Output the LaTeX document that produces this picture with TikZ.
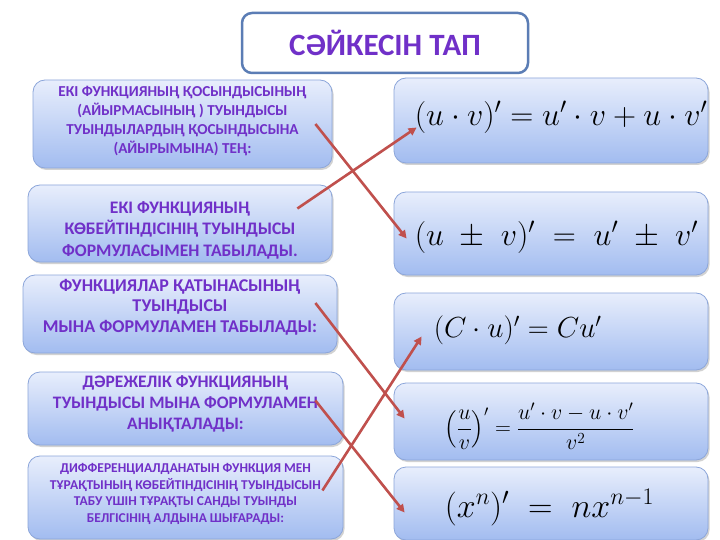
\documentclass[tikz,border=0pt]{standalone}
\usepackage{fix-cm}
\usepackage{amsmath}
\usepackage{fontspec}
\setmainfont{Carlito}
\usetikzlibrary{arrows.meta,positioning,shadows}
\definecolor{titleblue}{HTML}{5B7DB5}
\definecolor{textviolet}{HTML}{7030C8}
\definecolor{boxtop}{HTML}{E8EEFC}
\definecolor{boxbottom}{HTML}{A2BCF0}
\definecolor{boxline}{HTML}{8CA6DA}
\definecolor{arrowred}{HTML}{C0504D}

\begin{document}
\begin{tikzpicture}[x=1pt, y=-1pt,
  titlebox/.style={draw=titleblue, line width=2.5pt, rounded corners=10pt, fill=white,
                   minimum width=286pt, minimum height=60pt, text=textviolet,
                   font=\fontsize{31}{34}\selectfont\bfseries},
  card/.style={draw=boxline, line width=0.8pt, rounded corners=12pt,
               top color=boxtop, bottom color=boxbottom,
               drop shadow={opacity=0.35, shadow xshift=1.5pt, shadow yshift=-2pt}},
  statement/.style={align=center, text=textviolet, inner sep=0pt},
  formula/.style={anchor=west, inner sep=0pt},
  arrow/.style={-{Triangle[length=8pt,width=8pt]}, line width=2.6pt, arrowred}
]
\fill[white] (0,0) rectangle (720,540);
\useasboundingbox (0,0) rectangle (720,540);

\node[titlebox] (title) at (385,43) {СӘЙКЕСІН ТАП};

% left column: statements
\node[card, minimum width=299pt, minimum height=88pt] (l1) at (182.5,124) {};
\node[card, minimum width=304pt, minimum height=77pt] (l2) at (180,223.5) {};
\node[card, minimum width=314pt, minimum height=78pt] (l3) at (180,314) {};
\node[card, minimum width=315pt, minimum height=73pt] (l4) at (185.5,408.5) {};
\node[card, minimum width=315pt, minimum height=83pt] (l5) at (185.5,497.5) {};

\node[statement, font=\bfseries\fontsize{15.2}{18.7}\selectfont] (t1) at ([yshift=3pt]l1.center)
  {ЕКІ ФУНКЦИЯНЫҢ ҚОСЫНДЫСЫНЫҢ\\(АЙЫРМАСЫНЫҢ ) ТУЫНДЫСЫ\\ТУЫНДЫЛАРДЫҢ ҚОСЫНДЫСЫНА\\(АЙЫРЫМЫНА) ТЕҢ:};
\node[statement, font=\bfseries\fontsize{17.6}{21.5}\selectfont] (t2) at ([yshift=-6.5pt]l2.center)
  {ЕКІ ФУНКЦИЯНЫҢ\\КӨБЕЙТІНДІСІНІҢ ТУЫНДЫСЫ\\ФОРМУЛАСЫМЕН ТАБЫЛАДЫ.};
\node[statement, font=\bfseries\fontsize{18}{20.7}\selectfont] (t3) at ([yshift=7pt]l3.center)
  {ФУНКЦИЯЛАР ҚАТЫНАСЫНЫҢ\\ТУЫНДЫСЫ\\МЫНА ФОРМУЛАМЕН ТАБЫЛАДЫ:};
\node[statement, font=\bfseries\fontsize{17.5}{21}\selectfont] (t4) at ([yshift=4.5pt]l4.center)
  {ДӘРЕЖЕЛІК ФУНКЦИЯНЫҢ\\ТУЫНДЫСЫ МЫНА ФОРМУЛАМЕН\\АНЫҚТАЛАДЫ:};
\node[statement, font=\bfseries\fontsize{13.5}{16.9}\selectfont] (t5) at ([yshift=3.5pt]l5.center)
  {ДИФФЕРЕНЦИАЛДАНАТЫН ФУНКЦИЯ МЕН\\ТҰРАҚТЫНЫҢ КӨБЕЙТІНДІСІНІҢ ТУЫНДЫСЫН\\ТАБУ ҮШІН ТҰРАҚТЫ САНДЫ ТУЫНДЫ\\БЕЛГІСІНІҢ АЛДЫНА ШЫҒАРАДЫ:};

% right column: formulas
\node[card, minimum width=314pt, minimum height=85pt] (r1) at (551,120.5) {};
\node[card, minimum width=314pt, minimum height=83pt] (r2) at (551,233.5) {};
\node[card, minimum width=314pt, minimum height=77pt] (r3) at (551,331.5) {};
\node[card, minimum width=314pt, minimum height=77pt] (r4) at (551,421.5) {};
\node[card, minimum width=314pt, minimum height=73pt] (r5) at (551,503.5) {};

\node[formula, font=\fontsize{32}{36}\selectfont] (f1) at ([xshift=21pt,yshift=3.5pt]r1.west)
  {$(u\cdot v)'=u'\cdot v+u\cdot v'$};
\node[formula, font=\fontsize{32}{36}\selectfont] (f2) at ([xshift=21pt,yshift=-3.5pt]r2.west)
  {$(u\;\pm\;v)'\;=\;u'\;\pm\;v'$};
\node[formula, font=\fontsize{29}{32}\selectfont] (f3) at ([xshift=40pt,yshift=1pt]r3.west)
  {$(C\cdot u)'=Cu'$};
\node[formula, font=\fontsize{22}{26}\selectfont] (f4) at ([xshift=51pt,yshift=-5pt]r4.west)
  {$\left(\dfrac{u}{v}\right)'=\dfrac{u'\cdot v-u\cdot v'}{v^2}$};
\node[formula, font=\fontsize{34}{38}\selectfont] (f5) at ([xshift=51pt,yshift=-4pt]r5.west)
  {$(x^n)'\;=\;nx^{n-1}$};

% matching arrows
\draw[arrow] ([xshift=-17pt]l1.east) -- ([xshift=13pt,yshift=-5pt]r2.west);
\draw[arrow] ([xshift=-35pt,yshift=15pt]l2.east) -- ([xshift=23pt,yshift=-7pt]r1.west);
\draw[arrow] ([xshift=-22pt,yshift=11pt]l3.east) -- ([xshift=11pt,yshift=3pt]r4.west);
\draw[arrow] ([xshift=-28pt,yshift=8pt]l4.east) -- ([xshift=11pt,yshift=-9pt]r5.west);
\draw[arrow] ([xshift=-21pt,yshift=7pt]l5.east) -- ([xshift=28pt,yshift=-5pt]r3.west);
\end{tikzpicture}
\end{document}
